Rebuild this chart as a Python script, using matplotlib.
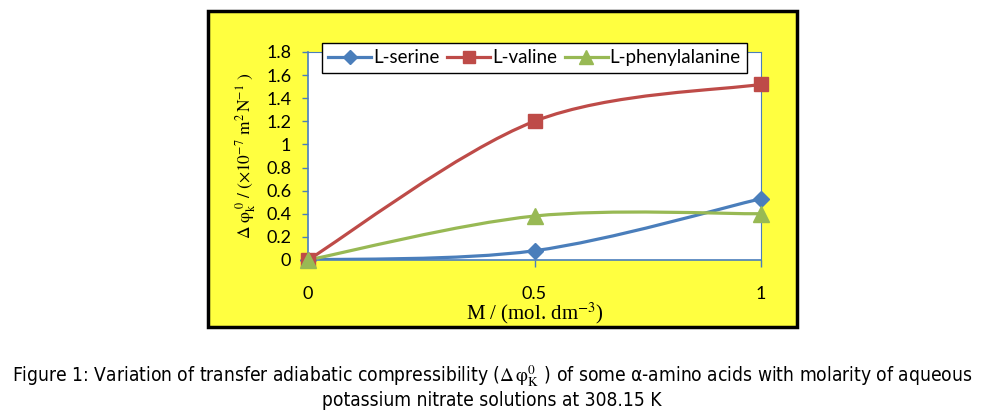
import matplotlib
matplotlib.use('Agg')
import matplotlib.pyplot as plt
from matplotlib.path import Path
from matplotlib.patches import PathPatch, Rectangle

# dados
molaridade = [0.0, 0.5, 1.0]
serina = [0.0, 0.08, 0.53]
valina = [0.0, 1.20, 1.52]
fenilalanina = [0.0, 0.38, 0.40]
nomes = ['L-serine', 'L-valine', 'L-phenylalanine']
x_ticks = [0, 0.5, 1]
y_ticks = [0, 0.2, 0.4, 0.6, 0.8, 1.0, 1.2, 1.4, 1.6, 1.8]
y_tick_labels = ['0', '0.2', '0.4', '0.6', '0.8', '1', '1.2', '1.4', '1.6', '1.8']

cores = ['#4a7ebb', '#be4b48', '#98b954']
marcadores = ['D', 's', '^']
tamanhos = [8, 10, 11]

plt.rcParams['mathtext.fontset'] = 'stix'
fonte_excel = ['Lato', 'DejaVu Sans']


def curva_suave(xs, ys):
    # curva tipo "linha suavizada" do Excel (Bezier cúbica)
    pts = list(zip(xs, ys))
    verts = [pts[0]]
    codes = [Path.MOVETO]
    n = len(pts)
    for i in range(n - 1):
        p0 = pts[i - 1] if i > 0 else pts[i]
        p1 = pts[i]
        p2 = pts[i + 1]
        p3 = pts[i + 2] if i + 2 < n else pts[i + 1]
        c1 = (p1[0] + (p2[0] - p0[0]) / 6, p1[1] + (p2[1] - p0[1]) / 6)
        c2 = (p2[0] - (p3[0] - p1[0]) / 6, p2[1] - (p3[1] - p1[1]) / 6)
        verts += [c1, c2, p2]
        codes += [Path.CURVE4] * 3
    return Path(verts, codes)


fig = plt.figure(figsize=(9.84, 4.12), dpi=100)
fig.patch.set_facecolor('white')

# moldura amarela
moldura = Rectangle((0.2114, 0.2063), 0.5986, 0.7667, transform=fig.transFigure,
                    facecolor='#ffff40', edgecolor='black', linewidth=2.5, zorder=-10)
fig.add_artist(moldura)

ax = fig.add_axes([0.313, 0.369, 0.4604, 0.505])
ax.set_facecolor('white')

series = [serina, valina, fenilalanina]
handles = []
for ys, cor, mk, ms, nome in zip(series, cores, marcadores, tamanhos, nomes):
    ax.add_patch(PathPatch(curva_suave(molaridade, ys), facecolor='none', edgecolor=cor,
                           linewidth=2.3, capstyle='round', zorder=3))
    ax.plot(molaridade, ys, linestyle='none', marker=mk, markersize=ms, color=cor,
            clip_on=False, zorder=4)
    h, = ax.plot([], [], color=cor, linewidth=2.3, marker=mk, markersize=ms - 1, label=nome)
    handles.append(h)

ax.set_xlim(0, 1)
ax.set_ylim(0, 1.8)
ax.set_xticks(x_ticks)
ax.set_xticklabels(['0', '0.5', '1'])
ax.set_yticks(y_ticks)
ax.set_yticklabels(y_tick_labels)

for lado in ['left', 'bottom']:
    ax.spines[lado].set_color('#4a7ebb')
    ax.spines[lado].set_linewidth(1.2)
for lado in ['top', 'right']:
    ax.spines[lado].set_color('#4a7ebb')
    ax.spines[lado].set_linewidth(0.8)

ax.tick_params(axis='y', direction='out', length=4, width=1, color='#4a7ebb', pad=8,
               labelsize=13)
ax.tick_params(axis='x', direction='out', length=5, width=1, color='#4a7ebb', pad=14,
               labelsize=13)
for lbl in ax.get_xticklabels() + ax.get_yticklabels():
    lbl.set_family(fonte_excel)

ax.set_ylabel(r'$\Delta\ \mathrm{φ}_{\mathrm{k}}^{\;0}\ /\ (\times10^{-7}\ \mathrm{m}^{2}\,\mathrm{N}^{-1}\ )$',
              fontsize=12.5, labelpad=6)
ax.set_xlabel(r'M / (mol. dm$^{-3}$)', family=['Liberation Serif', 'DejaVu Serif'],
              fontsize=15, labelpad=-1)

leg = ax.legend(handles=handles, loc='upper center', bbox_to_anchor=(0.5, 1.045), ncol=3,
                frameon=True, fancybox=False, edgecolor='black', framealpha=1,
                prop={'family': fonte_excel, 'size': 13.5}, handlelength=2.3,
                handletextpad=0.1, columnspacing=0.4, borderpad=0.35, borderaxespad=0)
leg.get_frame().set_linewidth(1.0)
leg.set_zorder(5)

# legenda da figura
fig.text(0.5, 0.088,
         r'Figure 1: Variation of transfer adiabatic compressibility ($\Delta\,\mathrm{φ}_{\mathrm{K}}^{\mathrm{0}}$ ) of some α-amino acids with molarity of aqueous',
         ha='center', va='center', fontsize=13.8, family='DejaVu Sans', fontstretch='condensed')
fig.text(0.5, 0.028, 'potassium nitrate solutions at 308.15 K',
         ha='center', va='center', fontsize=13.8, family='DejaVu Sans', fontstretch='condensed')

fig.savefig('out.png', dpi=100, facecolor='white')
